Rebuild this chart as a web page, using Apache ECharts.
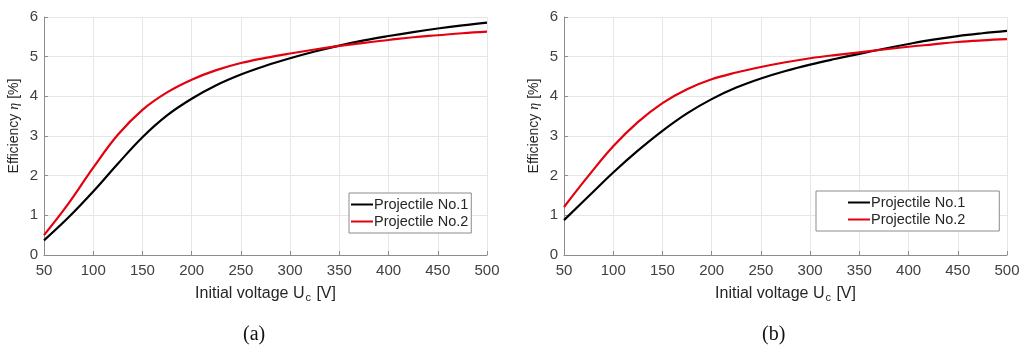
<!DOCTYPE html>
<html>
<head>
<meta charset="utf-8">
<script src="https://cdn.jsdelivr.net/npm/echarts@6/dist/echarts.min.js"></script>
<style>
  html, body { margin: 0; padding: 0; background: #fff; }
  #main { width: 1023px; height: 347px; }
</style>
</head>
<body>
<div id="main"></div>
<script>
var voltage = [50, 75, 100, 125, 150, 175, 200, 225, 250, 275, 300, 325, 350, 375, 400, 425, 450, 475, 500];

// (a)
var projA1 = [0.37, 0.95, 1.6, 2.3, 2.97, 3.52, 3.94, 4.28, 4.55, 4.77, 4.96, 5.13, 5.28, 5.41, 5.52, 5.62, 5.71, 5.79, 5.86];
var projA2 = [0.5, 1.3, 2.2, 3.03, 3.66, 4.1, 4.42, 4.66, 4.84, 4.97, 5.08, 5.18, 5.27, 5.35, 5.42, 5.49, 5.54, 5.59, 5.63];
// (b)
var projB1 = [0.88, 1.48, 2.08, 2.63, 3.13, 3.57, 3.93, 4.22, 4.45, 4.64, 4.8, 4.94, 5.07, 5.2, 5.32, 5.43, 5.52, 5.59, 5.65];
var projB2 = [1.21, 2.0, 2.74, 3.35, 3.83, 4.18, 4.43, 4.6, 4.74, 4.86, 4.96, 5.04, 5.11, 5.18, 5.25, 5.31, 5.37, 5.41, 5.44];

var names = ['Projectile No.1', 'Projectile No.2'];
var captions = ['(a)', '(b)'];

function pairs(ys) {
  return voltage.map(function (v, i) { return [v, ys[i]]; });
}

var chartDom = document.getElementById('main');
var myChart = echarts.init(chartDom);
var font = 'Liberation Sans, Arial, sans-serif';

function xAxis(idx) {
  return {
    type: 'value', gridIndex: idx, min: 50, max: 500, interval: 50,
    name: '{a|Initial voltage U}{s|c}{a| [V]}',
    nameLocation: 'middle', nameGap: 30,
    nameTextStyle: {
      rich: {
        a: { fontSize: 16, color: '#262626', fontFamily: font, lineHeight: 18 },
        s: { fontSize: 11, color: '#262626', fontFamily: font, lineHeight: 18, verticalAlign: 'bottom', padding: [8, 1, 0, 1] }
      }
    },
    axisLine: { show: true, lineStyle: { color: '#8c8c8c' } },
    axisTick: { show: true, inside: true, length: 4, lineStyle: { color: '#8c8c8c' } },
    axisLabel: { fontSize: 15, color: '#404040', fontFamily: font, margin: 8 },
    splitLine: { show: true, lineStyle: { color: '#e6e6e6' } }
  };
}

function yAxis(idx) {
  return {
    type: 'value', gridIndex: idx, min: 0, max: 6, interval: 1,
    name: '{a|Efficiency}{i|η}{a|[%]}',
    nameLocation: 'middle', nameGap: 23,
    nameTextStyle: {
      padding: [0, 0, 0, 20],
      rich: {
        a: { fontSize: 14, color: '#262626', fontFamily: font },
        i: { fontSize: 14, color: '#262626', fontFamily: 'Liberation Serif, serif', fontStyle: 'italic', padding: [0, 4, 0, 4] }
      }
    },
    axisLine: { show: true, lineStyle: { color: '#8c8c8c' } },
    axisTick: { show: true, inside: true, length: 4, lineStyle: { color: '#8c8c8c' } },
    axisLabel: { fontSize: 15, color: '#404040', fontFamily: font, margin: 6 },
    splitLine: { show: true, lineStyle: { color: '#e6e6e6' } }
  };
}

function line(name, idx, ys, color) {
  return {
    name: name, type: 'line', xAxisIndex: idx, yAxisIndex: idx,
    data: pairs(ys), smooth: 0.4, symbol: 'none',
    lineStyle: { color: color, width: 2.2 }, itemStyle: { color: color }
  };
}

function legend(opts) {
  return Object.assign({
    data: names, orient: 'vertical',
    icon: 'rect', itemWidth: 22, itemHeight: 2, itemGap: 2,
    backgroundColor: '#fff', borderColor: '#8c8c8c', borderWidth: 1,
    textStyle: { fontSize: 14.5, color: '#262626', fontFamily: font, padding: [0, 0, 0, -4] }
  }, opts);
}

var captionStyle = { fontSize: 20, fontWeight: 'normal', color: '#111', fontFamily: 'Liberation Serif, serif' };

var option = {
  animation: false,
  title: [
    { text: captions[0], left: 238, top: 320, textStyle: captionStyle },
    { text: captions[1], left: 757, top: 320, textStyle: captionStyle }
  ],
  grid: [
    { left: 44, right: 536, top: 17, bottom: 92 },
    { left: 564, right: 16, top: 17, bottom: 92 }
  ],
  xAxis: [xAxis(0), xAxis(1)],
  yAxis: [yAxis(0), yAxis(1)],
  legend: [
    legend({ left: 349, top: 193, padding: [4, 3, 4, 2] }),
    legend({ left: 816, top: 191, padding: [4, 34, 4, 32] })
  ],
  series: [
    line(names[0], 0, projA1, '#000000'),
    line(names[1], 0, projA2, '#e3000f'),
    line(names[0], 1, projB1, '#000000'),
    line(names[1], 1, projB2, '#e3000f')
  ]
};

option && myChart.setOption(option);
</script>
</body>
</html>
